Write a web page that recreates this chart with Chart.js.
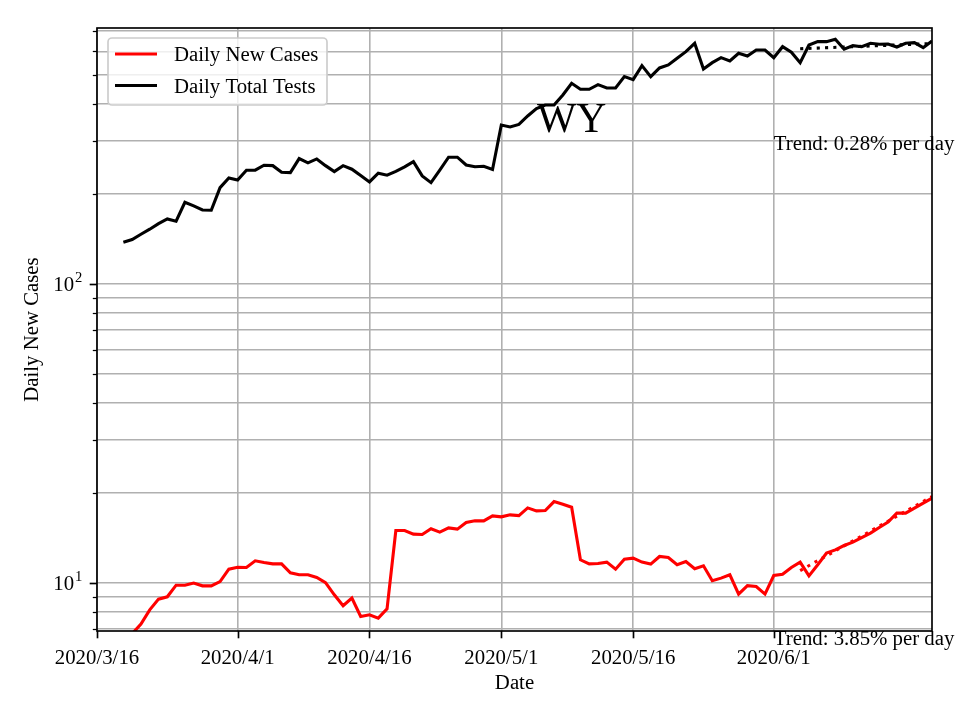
<!DOCTYPE html>
<html><head><meta charset="utf-8">
<script src="https://cdn.jsdelivr.net/npm/chart.js@4/dist/chart.umd.min.js"></script>
<style>html,body{margin:0;padding:0;background:#fff}</style>
</head><body>
<canvas id="c" width="960" height="720"></canvas>
<script>
// ---- data (days counted from 2020/3/16) ----
const firstDataDay = 3;   // 2020/3/19
const lastDay = 95;       // 2020/6/19
const xTickDays = [0, 16, 31, 46, 61, 77];
const xTickLabels = ['2020/3/16', '2020/4/1', '2020/4/16', '2020/5/1', '2020/5/16', '2020/6/1'];
const yTickValues = [7, 8, 9, 10, 20, 30, 40, 50, 60, 70, 80, 90, 100, 200, 300, 400, 500, 600, 700];
const yMajorValues = [10, 100];
const yMajorExponents = ['1', '2'];

const dailyNewCases = [
  6.2, 6.76, 7.28, 8.12, 8.82, 8.98, 9.82, 9.82, 9.98, 9.77,
  9.77, 10.10, 11.11, 11.28, 11.25, 11.85, 11.69, 11.57, 11.57, 10.80,
  10.64, 10.64, 10.42, 10.02, 9.12, 8.38, 8.89, 7.72, 7.82, 7.62,
  8.18, 14.96, 14.96, 14.55, 14.51, 15.16, 14.78, 15.27, 15.12, 15.91,
  16.12, 16.12, 16.75, 16.62, 16.88, 16.79, 17.81, 17.41, 17.45, 18.70,
  18.33, 17.91, 11.94, 11.57, 11.60, 11.73, 11.11, 12.00, 12.09, 11.73,
  11.55, 12.25, 12.15, 11.49, 11.78, 11.14, 11.40, 10.16, 10.37, 10.64,
  9.17, 9.79, 9.72, 9.17, 10.58, 10.69, 11.25, 11.73, 10.55, 11.49,
  12.57, 12.89, 13.33, 13.68, 14.17, 14.66, 15.31, 15.96, 17.11, 17.11,
  17.78, 18.48, 19.20
];
const dailyTotalTests = [
  137.9, 140.7, 146.6, 152.4, 159.1, 165.0, 162.1, 187.6, 182.4, 176.8,
  176.4, 209.9, 226.2, 222.7, 240.1, 240.1, 249.5, 248.7, 236.4, 235.6,
  262.5, 254.0, 261.9, 248.7, 237.5, 248.7, 241.9, 230.3, 219.3, 234.6,
  231.0, 237.8, 246.3, 256.5, 229.8, 218.2, 240.3, 265.3, 265.4, 250.0,
  246.6, 247.6, 241.5, 340.0, 335.1, 341.6, 364.7, 385.8, 396.9, 396.9,
  428.7, 469.1, 447.9, 447.9, 464.1, 452.4, 452.4, 493.6, 482.3, 537.3,
  493.6, 527.9, 540.1, 568.6, 598.3, 638.3, 523.9, 549.8, 571.4, 557.0,
  591.0, 578.8, 606.2, 606.2, 571.4, 621.8, 595.6, 549.8, 630.0, 646.3,
  646.3, 658.4, 609.5, 626.6, 621.8, 638.3, 633.5, 635.0, 620.4, 638.3,
  641.2, 617.1, 649.8
];
const casesTrendDays = [80, 95];
const casesTrendValues = [10.99, 19.44];
const testsTrendDays = [80, 95];
const testsTrendValues = [612, 637];

const annotations = [
  {text: 'WY', day: 54, value: 322, size: 41.7, align: 'center'},
  {text: 'Trend: 0.28% per day', day: 77, value: 280, size: 20.8, align: 'left'},
  {text: 'Trend: 3.85% per day', day: 77, value: 6.2, size: 20.8, align: 'left'}
];

// ---- drawing ----
const FONT = "'Liberation Serif', 'Times New Roman', 'DejaVu Serif', serif";
Chart.defaults.font.family = FONT;
Chart.defaults.font.size = 20.8;
Chart.defaults.color = '#000';

const toPoints = (start, vals) => vals.map((v, i) => ({x: start + i, y: v}));
const pairPoints = (days, vals) => days.map((d, i) => ({x: d, y: vals[i]}));

const frameTicksPlugin = {
  id: 'frameTicks',
  afterDatasetsDraw(chart) {
    const {ctx, chartArea: a, scales} = chart;
    ctx.save();
    ctx.strokeStyle = '#000';
    yTickValues.forEach(v => {
      const major = yMajorValues.includes(v);
      const y = Math.round(scales.y.getPixelForValue(v)) + 0.5;
      ctx.lineWidth = major ? 1.67 : 1.25;
      ctx.beginPath();
      ctx.moveTo(a.left, y);
      ctx.lineTo(a.left - (major ? 7.3 : 4.2), y);
      ctx.stroke();
    });
    xTickDays.forEach(d => {
      const x = Math.round(scales.x.getPixelForValue(d)) + 0.5;
      ctx.lineWidth = 1.67;
      ctx.beginPath();
      ctx.moveTo(x, a.bottom);
      ctx.lineTo(x, a.bottom + 7.3);
      ctx.stroke();
    });
    ctx.lineWidth = 1.67;
    ctx.strokeRect(a.left, a.top, a.right - a.left, a.bottom - a.top);
    // y major labels: 10 with raised exponent
    ctx.fillStyle = '#000';
    ctx.textBaseline = 'alphabetic';
    ctx.textAlign = 'right';
    yMajorValues.forEach((v, i) => {
      const y = scales.y.getPixelForValue(v);
      const right = a.left - 14.6;
      ctx.font = '14.6px ' + FONT;
      const ew = ctx.measureText(yMajorExponents[i]).width;
      ctx.fillText(yMajorExponents[i], right, y - 1.5);
      ctx.font = '20.8px ' + FONT;
      ctx.fillText('10', right - ew - 1, y + 7.5);
    });
    ctx.restore();
  },
  afterDraw(chart) {
    const {ctx, chartArea: a, scales} = chart;
    ctx.save();
    ctx.fillStyle = '#000';
    ctx.textBaseline = 'alphabetic';
    annotations.forEach(t => {
      ctx.font = t.size + 'px ' + FONT;
      ctx.textAlign = t.align;
      ctx.fillText(t.text, scales.x.getPixelForValue(t.day), scales.y.getPixelForValue(t.value));
    });
    // legend
    const x0 = a.left + 11, y0 = a.top + 10, w = 219, h = 67, r = 4;
    ctx.beginPath();
    ctx.roundRect(x0, y0, w, h, r);
    ctx.fillStyle = 'rgba(255,255,255,0.8)';
    ctx.fill();
    ctx.strokeStyle = '#cccccc';
    ctx.lineWidth = 1.67;
    ctx.stroke();
    ctx.font = '20.8px ' + FONT;
    ctx.textAlign = 'left';
    [0, 1].forEach((di, k) => {
      const ds = chart.data.datasets[di];
      const ly = y0 + 16 + k * 31.5;
      ctx.strokeStyle = ds.borderColor;
      ctx.lineWidth = 3.1;
      ctx.beginPath();
      ctx.moveTo(x0 + 7, ly);
      ctx.lineTo(x0 + 49, ly);
      ctx.stroke();
      ctx.fillStyle = '#000';
      ctx.fillText(ds.label, x0 + 66, ly + 7);
    });
    ctx.restore();
  }
};

new Chart(document.getElementById('c'), {
  type: 'line',
  data: {
    datasets: [
      {label: 'Daily New Cases', data: toPoints(firstDataDay, dailyNewCases), borderColor: '#ff0000', borderWidth: 3.1, pointRadius: 0, tension: 0, fill: false},
      {label: 'Daily Total Tests', data: toPoints(firstDataDay, dailyTotalTests), borderColor: '#000000', borderWidth: 3.1, pointRadius: 0, tension: 0, fill: false},
      {label: 'cases trend', data: pairPoints(casesTrendDays, casesTrendValues), borderColor: '#ff0000', borderWidth: 3.1, borderDash: [3.1, 5.2], borderCapStyle: 'butt', pointRadius: 0, fill: false},
      {label: 'tests trend', data: pairPoints(testsTrendDays, testsTrendValues), borderColor: '#000000', borderWidth: 3.1, borderDash: [3.1, 5.2], borderCapStyle: 'butt', pointRadius: 0, fill: false}
    ]
  },
  options: {
    responsive: false,
    animation: false,
    devicePixelRatio: 1,
    layout: {padding: {top: 28, right: 28, left: 0, bottom: 0}},
    plugins: {legend: {display: false}, tooltip: {enabled: false}},
    scales: {
      x: {
        type: 'linear', min: 0, max: lastDay, bounds: 'data',
        afterBuildTicks: s => { s.ticks = xTickDays.map(v => ({value: v})); },
        afterFit: s => { s.height = 89; },
        ticks: {autoSkip: false, maxRotation: 0, padding: 14.6, color: '#000',
          callback: v => { const i = xTickDays.indexOf(v); return i >= 0 ? xTickLabels[i] : ''; }},
        grid: {color: '#b0b0b0', lineWidth: 1.6, drawTicks: false},
        border: {display: false},
        title: {display: true, text: 'Date', color: '#000', padding: {top: 0, bottom: 24}}
      },
      y: {
        type: 'logarithmic', min: 6.9, max: 718, bounds: 'data',
        afterBuildTicks: s => { s.ticks = yTickValues.map(v => ({value: v})); },
        afterFit: s => { s.width = 97; },
        ticks: {autoSkip: false, padding: 14.6, color: '#000', callback: () => ''},
        grid: {color: '#b0b0b0', lineWidth: 1.6, drawTicks: false},
        border: {display: false},
        title: {display: true, text: 'Daily New Cases', color: '#000', padding: {top: 20, bottom: 0}}
      }
    }
  },
  plugins: [frameTicksPlugin]
});
</script>
</body></html>
